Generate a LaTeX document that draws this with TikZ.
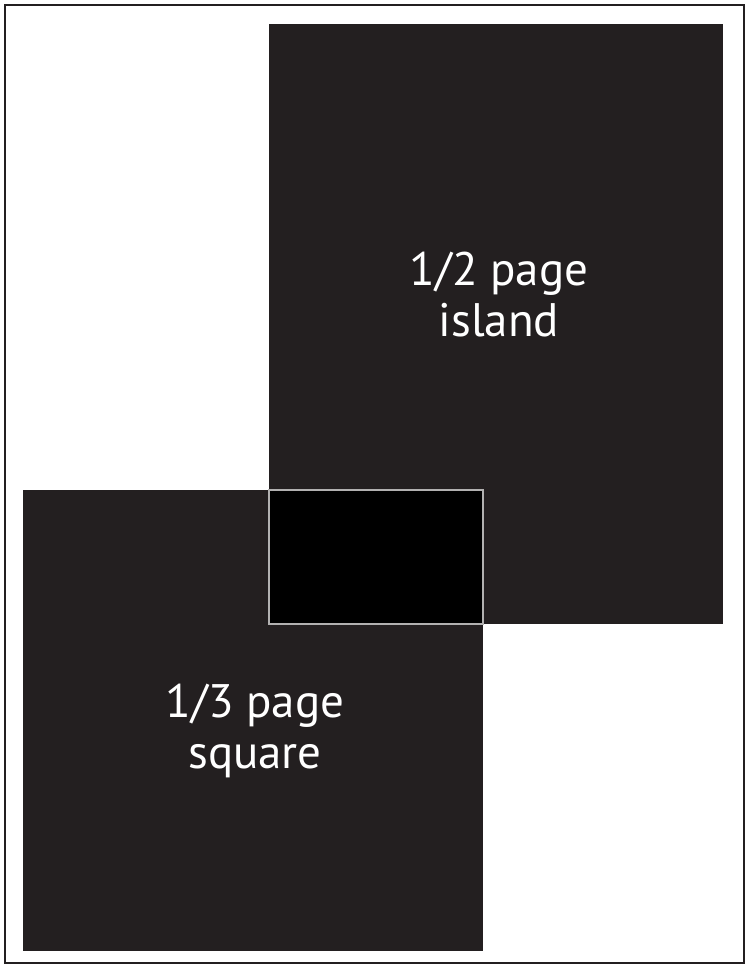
\documentclass[tikz,border=0pt]{standalone}
\usepackage{fontspec}
\setmainfont{PT Sans}
\usepackage{xcolor}
\usepackage{tikz}
\definecolor{cInk}{HTML}{231F20}
\definecolor{cDeep}{HTML}{000000}
\tikzset{
  adbox/.style  = {fill=cInk, draw=none, inner sep=0pt, anchor=north west},
  adlabel/.style = {text=white, align=center, inner sep=0pt,
                    font=\fontsize{47pt}{51pt}\selectfont},
  frame/.style  = {draw=cInk, line width=2.4pt},
  overlap/.style = {fill=cDeep, draw=white!65!cInk, line width=2pt},
}

\begin{document}
\begin{tikzpicture}[x=1pt, y=-1pt]
  \useasboundingbox (0,0) rectangle (746,965);
  % page outline
  \draw[frame] (5,5) rectangle (744,963);
  % half page island and third page square
  \node[adbox, minimum width=454pt, minimum height=600pt] (island) at (269,24) {};
  \node[adbox, minimum width=460pt, minimum height=461pt] (square) at (23,490) {};
  % where the two ads overlap
  \draw[overlap] (square.north -| island.west) rectangle (island.south -| square.east);
  % labels
  \node[adlabel] (islandtxt) at (499,295) {1/2 page\\island};
  \node[adlabel] (squaretxt) at (255,731) {1/3 page\\square};
\end{tikzpicture}
\end{document}
